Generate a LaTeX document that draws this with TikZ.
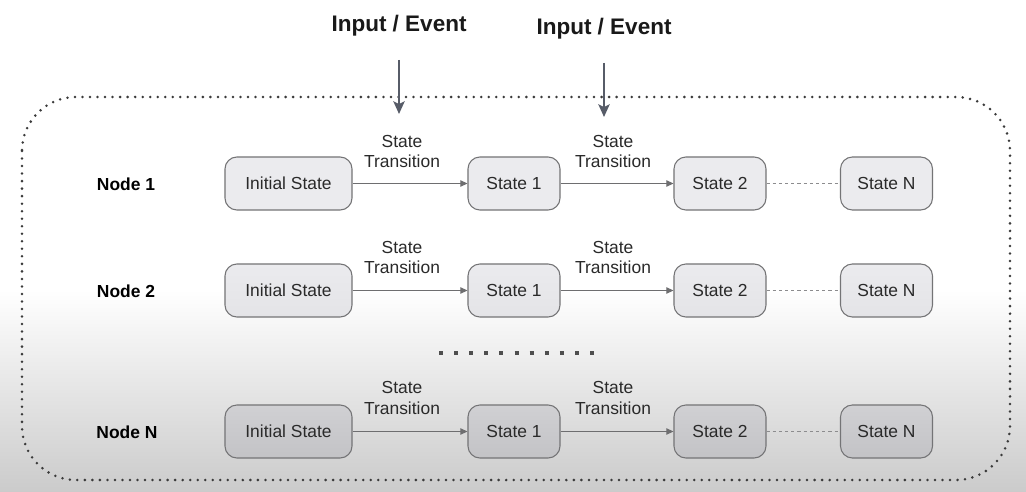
\documentclass[tikz,border=0pt]{standalone}
\usepackage{fontspec}
\setmainfont{Liberation Sans}
\usetikzlibrary{arrows.meta}
\definecolor{boxline}{HTML}{747476}
\definecolor{rowone}{HTML}{EBEBEE}
\definecolor{rowtwobot}{HTML}{E4E4E7}
\definecolor{rowntop}{HTML}{D0D0D3}
\definecolor{rownbot}{HTML}{C3C3C6}
\definecolor{bgbot}{HTML}{CBCBCB}
\definecolor{evarrow}{HTML}{575C68}
\definecolor{trarrow}{HTML}{6E6E70}
\definecolor{dashgray}{HTML}{8C8C8E}
\definecolor{dotgray}{HTML}{3A3A3A}
\definecolor{txt}{HTML}{2A2A2A}
\tikzset{
  statebox/.style={draw=boxline, line width=0.75pt, rounded corners=8.5pt,
    minimum height=1.325cm, text=txt, inner sep=0pt,
    font=\fontsize{12.4}{14.6}\selectfont},
  initbox/.style={statebox, minimum width=3.175cm},
  smallbox/.style={statebox, minimum width=2.3cm},
  rowA/.style={fill=rowone},
  rowB/.style={top color=rowone, bottom color=rowtwobot},
  rowC/.style={top color=rowntop, bottom color=rownbot},
  nodelabel/.style={font=\bfseries\fontsize{12.4}{14.6}\selectfont, text=black},
  translabel/.style={align=center, text=txt, font=\fontsize{12.4}{14.6}\selectfont, inner sep=0pt},
  title/.style={font=\bfseries\fontsize{16}{19}\selectfont, text=black!90},
  trans/.style={draw=trarrow, line width=0.75pt, -{Triangle[length=5pt,width=4.5pt]}},
  follow/.style={draw=dashgray, line width=0.75pt, dash pattern=on 2.2pt off 2.2pt},
  evt/.style={draw=evarrow, line width=2pt, -{Stealth[length=9pt,width=8pt,inset=2pt]}},
  border/.style={draw=dotgray, line width=2pt, line cap=round, dash pattern=on 0pt off 5.35pt, rounded corners=1.35cm},
}
\begin{document}
\begin{tikzpicture}[x=0.025cm,y=-0.025cm]
\useasboundingbox (0,0) rectangle (1026,492);
\fill[white] (0,0) rectangle (1026,291);
\shade[top color=white, bottom color=bgbot] (0,290) rectangle (1026,492);

% outer dotted frame
\draw[border] (22,97) rectangle (1010,480);

% titles and event arrows
\node[title] (t1) at (399,26) {Input / Event};
\node[title] (t2) at (604,29) {Input / Event};
\coordinate (e1s) at (399,60);
\coordinate (e1e) at (399,114);
\coordinate (e2s) at (604,63);
\coordinate (e2e) at (604,117);
\draw[evt] (e1s) -- (e1e);
\draw[evt] (e2s) -- (e2e);

% row 1
\node[nodelabel] (n1) at (126,184) {Node 1};
\node[initbox,rowA] (i1) at (288.5,183.5) {Initial State};
\node[smallbox,rowA] (a1) at (514,183.5) {State 1};
\node[smallbox,rowA] (b1) at (720,183.5) {State 2};
\node[smallbox,rowA] (c1) at (886.5,183.5) {State N};
\node[translabel] (l11) at (402,151.5) {State\\Transition};
\node[translabel] (l12) at (613,151.5) {State\\Transition};
\draw[trans] (i1) -- (a1);
\draw[trans] (a1) -- (b1);
\draw[follow] (b1) -- (c1);

% row 2
\node[nodelabel] (n2) at (126,291) {Node 2};
\node[initbox,rowB] (i2) at (288.5,290.5) {Initial State};
\node[smallbox,rowB] (a2) at (514,290.5) {State 1};
\node[smallbox,rowB] (b2) at (720,290.5) {State 2};
\node[smallbox,rowB] (c2) at (886.5,290.5) {State N};
\node[translabel] (l21) at (402,257.5) {State\\Transition};
\node[translabel] (l22) at (613,257.5) {State\\Transition};
\draw[trans] (i2) -- (a2);
\draw[trans] (a2) -- (b2);
\draw[follow] (b2) -- (c2);

% ellipsis
\coordinate (d1) at (439,353);
\coordinate (d2) at (595,353);
\draw[draw=dotgray!90, line width=2.8pt, dash pattern=on 2.85pt off 7.9pt] (d1) -- (d2);

% row N
\node[nodelabel] (n3) at (127,432) {Node N};
\node[initbox,rowC] (i3) at (288.5,431.5) {Initial State};
\node[smallbox,rowC] (a3) at (514,431.5) {State 1};
\node[smallbox,rowC] (b3) at (720,431.5) {State 2};
\node[smallbox,rowC] (c3) at (886.5,431.5) {State N};
\node[translabel] (l31) at (402,398) {State\\Transition};
\node[translabel] (l32) at (613,398) {State\\Transition};
\draw[trans] (i3) -- (a3);
\draw[trans] (a3) -- (b3);
\draw[follow] (b3) -- (c3);
\end{tikzpicture}
\end{document}
